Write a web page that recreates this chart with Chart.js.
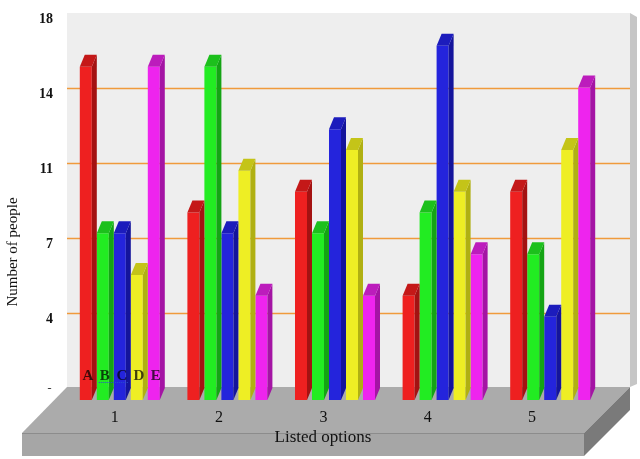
<!DOCTYPE html>
<html lang="en">
<head>
    <meta charset="UTF-8">
    <title>Listed options</title>
    <script src="https://cdnjs.cloudflare.com/ajax/libs/Chart.js/4.4.1/chart.umd.min.js"></script>
    <style>
        body {
            margin: 0;
            background: #ffffff;
        }
        #chart {
            display: block;
        }
    </style>
</head>
<body>
    <canvas id="chart" width="640" height="459"></canvas>

    <script>
        // Data
        const categories = ['1', '2', '3', '4', '5'];
        const seriesNames = ['A', 'B', 'C', 'D', 'E'];
        const seriesA = [16, 9, 10, 5, 10];
        const seriesB = [8, 16, 8, 9, 7];
        const seriesC = [8, 8, 13, 17, 4];
        const seriesD = [6, 11, 12, 10, 12];
        const seriesE = [16, 5, 5, 7, 15];
        const yTickValues = [0, 3.6, 7.2, 10.8, 14.4, 18];
        const yTickLabels = ['0', '4', '7', '11', '14', '18'];

        // front, side, top colours per series
        const fronts = ['#ee2020', '#22ec22', '#2424dc', '#eeee24', '#ee24ee'];
        const sides  = ['#a41212', '#14a414', '#14149c', '#b0b012', '#a414a4'];
        const tops   = ['#c41818', '#1cc01c', '#1c1cbc', '#c4c418', '#bc1cbc'];

        const DX = 5, DY = -12;   // depth offset of the 3d effect
        const serif = '"Liberation Serif", "DejaVu Serif", serif';

        const scene = {
            id: 'scene',
            beforeDatasetsDraw(chart) {
                const ctx = chart.ctx;
                const a = chart.chartArea;
                const y = chart.scales.y;
                const wallL = a.left + 1, wallR = a.right + 26;
                const floorY = a.bottom - 13;
                const wallTop = y.getPixelForValue(18) + DY;

                ctx.save();
                // hide the lower part of the "0" label like the original
                ctx.fillStyle = '#ffffff';
                ctx.beginPath();
                ctx.moveTo(0, floorY + 2);
                ctx.lineTo(wallL, floorY + 2);
                ctx.lineTo(22, a.bottom + 33);
                ctx.lineTo(0, a.bottom + 33);
                ctx.fill();

                // back wall
                ctx.fillStyle = '#eeeeee';
                ctx.fillRect(wallL, wallTop, wallR - wallL, floorY - wallTop);
                // right wall strip
                ctx.fillStyle = '#c6c6c6';
                ctx.beginPath();
                ctx.moveTo(wallR, wallTop);
                ctx.lineTo(wallR + 7, wallTop + 4);
                ctx.lineTo(wallR + 7, floorY - 3);
                ctx.lineTo(wallR, floorY);
                ctx.fill();

                // orange grid lines on the back wall
                ctx.strokeStyle = '#f09a3c';
                ctx.lineWidth = 1.5;
                yTickValues.slice(1, -1).forEach(v => {
                    const py = Math.round(y.getPixelForValue(v) + DY) + 0.5;
                    ctx.beginPath();
                    ctx.moveTo(wallL, py);
                    ctx.lineTo(wallR, py);
                    ctx.stroke();
                });

                // floor slab
                const fl = 22, fr = wallR - 46, fTop = a.bottom + 33, fBot = a.bottom + 56;
                ctx.fillStyle = '#ababab';
                ctx.beginPath();
                ctx.moveTo(wallL, floorY);
                ctx.lineTo(wallR, floorY);
                ctx.lineTo(fr, fTop);
                ctx.lineTo(fl, fTop);
                ctx.fill();
                ctx.fillStyle = '#a6a6a6';
                ctx.fillRect(fl, fTop, fr - fl, fBot - fTop);
                ctx.strokeStyle = '#8c8c8c';
                ctx.lineWidth = 1;
                ctx.beginPath();
                ctx.moveTo(fl, fTop + 0.5);
                ctx.lineTo(fr, fTop + 0.5);
                ctx.stroke();
                ctx.fillStyle = '#7a7a7a';
                ctx.beginPath();
                ctx.moveTo(wallR, floorY);
                ctx.lineTo(wallR, floorY + 23);
                ctx.lineTo(fr, fBot);
                ctx.lineTo(fr, fTop);
                ctx.fill();

                // category labels and axis titles
                ctx.fillStyle = '#111111';
                ctx.textAlign = 'center';
                ctx.textBaseline = 'middle';
                ctx.font = '16px ' + serif;
                const x = chart.scales.x;
                categories.forEach((c, i) => {
                    ctx.fillText(c, x.getPixelForValue(i) - 5 - i * 3.3, a.bottom + 18);
                });
                ctx.font = '17px ' + serif;
                ctx.fillText('Listed options', 323, a.bottom + 38);

                ctx.translate(13, 252);
                ctx.rotate(-Math.PI / 2);
                ctx.font = '15px ' + serif;
                ctx.fillText('Number of people', 0, 0);
                ctx.restore();
            },
            afterDatasetsDraw(chart) {
                const ctx = chart.ctx;
                ctx.save();
                chart.data.datasets.forEach((ds, di) => {
                    chart.getDatasetMeta(di).data.forEach(bar => {
                        const l = bar.x - bar.width / 2, r = bar.x + bar.width / 2;
                        const t = bar.y, b = bar.base;
                        // side face
                        ctx.fillStyle = sides[di];
                        ctx.beginPath();
                        ctx.moveTo(r, t);
                        ctx.lineTo(r + DX, t + DY);
                        ctx.lineTo(r + DX, b + DY);
                        ctx.lineTo(r, b);
                        ctx.fill();
                        // top face
                        ctx.fillStyle = tops[di];
                        ctx.beginPath();
                        ctx.moveTo(l, t);
                        ctx.lineTo(l + DX, t + DY);
                        ctx.lineTo(r + DX, t + DY);
                        ctx.lineTo(r, t);
                        ctx.fill();
                    });
                });

                // series letters drawn inside the first group
                ctx.font = 'bold 15px ' + serif;
                ctx.textAlign = 'center';
                ctx.textBaseline = 'middle';
                ctx.fillStyle = 'rgba(0, 0, 0, 0.72)';
                const bars = chart.data.datasets.map((ds, di) => chart.getDatasetMeta(di).data[0]);
                seriesNames.forEach((n, i) => {
                    ctx.fillText(n, bars[i].x + 2, chart.chartArea.bottom - 24);
                });
                // the squiggly spell-check underline under "B C"
                ctx.strokeStyle = '#2a4fd0';
                ctx.lineWidth = 1;
                ctx.setLineDash([1, 1]);
                ctx.beginPath();
                ctx.moveTo(bars[1].x - 4, chart.chartArea.bottom - 17.5);
                ctx.lineTo(bars[2].x + 8, chart.chartArea.bottom - 17.5);
                ctx.stroke();
                ctx.restore();
            }
        };

        const allSeries = [seriesA, seriesB, seriesC, seriesD, seriesE];

        new Chart(document.getElementById('chart'), {
            type: 'bar',
            data: {
                labels: categories,
                datasets: allSeries.map((values, i) => ({
                    label: seriesNames[i],
                    data: values,
                    backgroundColor: fronts[i],
                    borderWidth: 0,
                    categoryPercentage: 0.79,
                    barPercentage: 0.706
                }))
            },
            options: {
                responsive: false,
                animation: false,
                layout: {
                    padding: { left: 0, top: 25, right: 36, bottom: 0 }
                },
                plugins: {
                    legend: { display: false },
                    tooltip: { enabled: false }
                },
                scales: {
                    x: {
                        grid: { display: false },
                        border: { display: false },
                        ticks: { display: false },
                        afterFit(scale) { scale.height = 59; }
                    },
                    y: {
                        min: 0,
                        max: 18,
                        grid: { display: false, drawTicks: false },
                        border: { display: false },
                        afterBuildTicks(scale) {
                            scale.ticks = yTickValues.map(v => ({ value: v }));
                        },
                        ticks: {
                            padding: 13,
                            labelOffset: -6,
                            color: '#111111',
                            font: { family: serif, size: 14, weight: 'bold' },
                            callback: (value, index) => yTickLabels[index]
                        },
                        afterFit(scale) { scale.width = 66; }
                    }
                }
            },
            plugins: [scene]
        });
    </script>
</body>
</html>
